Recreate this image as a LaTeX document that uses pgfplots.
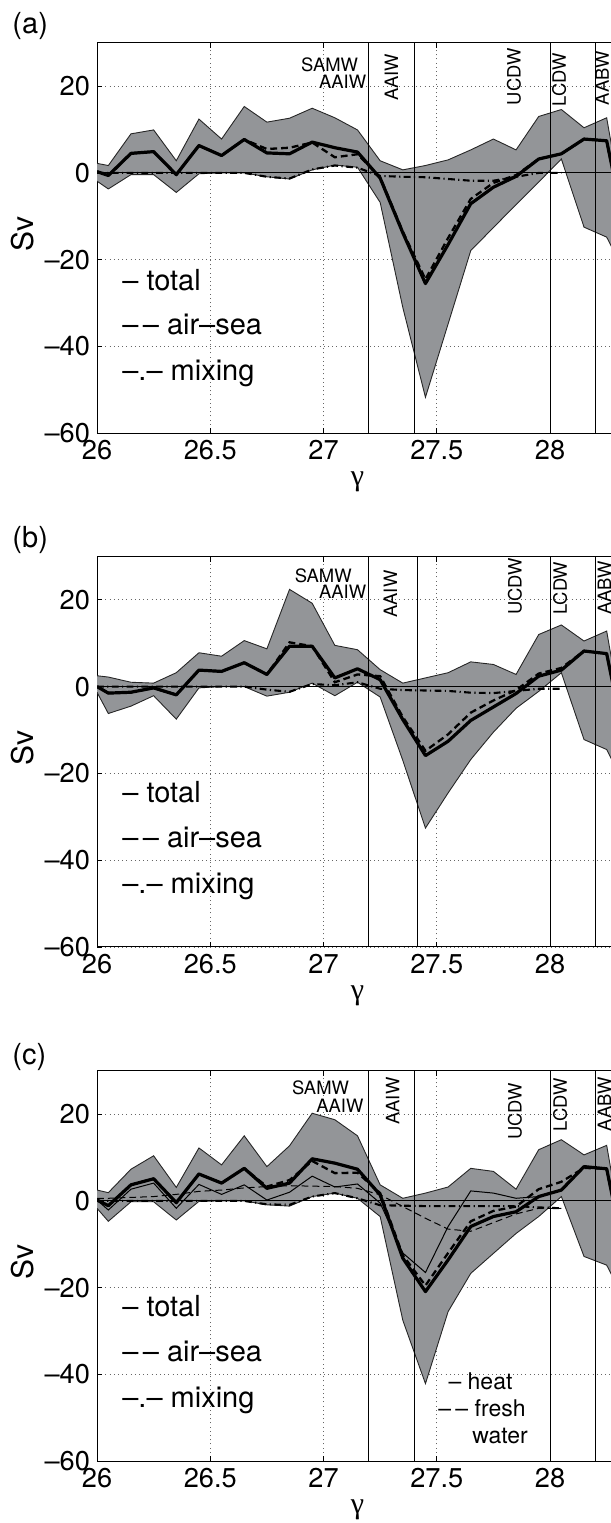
\documentclass[border=0pt]{standalone}
\usepackage{pgfplots}
\pgfplotsset{compat=1.18}
\usepackage{pgfplotstable}
\usepgfplotslibrary{fillbetween}
\usepackage{fontspec}
\setmainfont{TeX Gyre Heros}
\newfontfamily\greekfont{Liberation Serif}
\definecolor{shade}{RGB}{147,149,152}
\newcommand{\dd}{–\kern2.2pt–}

\pgfplotstableread{
x      up    lo     tot    air    mix
26.00  2.2  -1.9    0.3    0.3    0
26.05  1.7  -3.7   -0.6   -0.6    0
26.15  9.0  -0.4    4.5    4.5    0
26.25  9.9  -0.4    4.9    4.9    0
26.35  2.8  -4.5   -0.4   -0.4    0
26.45 12.4  -0.2    6.3    6.3    0
26.55  7.8   0.0    4.0    4.0    0
26.65 15.3   0.0    7.7    7.7    0
26.75 11.7  -0.9    4.6    5.5   -0.9
26.85 12.6  -1.4    4.4    5.8   -1.3
26.95 14.9   0.7    7.1    7.0    0.8
27.05 12.7   1.8    5.8    3.6    1.7
27.15  9.9   1.3    4.8    4.3    1.2
27.25  2.8  -6.8   -1.2   -1.0   -0.7
27.35  0.7 -31.0  -13.8  -13.5   -0.9
27.45  1.7 -51.7  -25.5  -24.5   -1.0
27.55  3.0 -34.8  -16.5  -15.0   -1.4
27.65  5.3 -17.9   -7.1   -6.0   -1.8
27.75  7.8 -12.6   -3.3   -2.3   -1.8
27.85  5.3  -7.3   -0.8   -0.5   -0.9
27.95 13.0  -2.1    3.2    3.2    0
28.05 14.6   3.2    4.4    4.4    0
28.15 10.4 -12.5    7.8    7.8    nan
28.25 12.7 -14.8    7.4    7.4    nan
28.35 -17  -25    -18    -18      nan
}\dataA

\pgfplotstableread{
x      up    lo     tot    air    mix
26.00  2.5  -1.3    0.0    0.0    0
26.05  2.2  -6.2   -1.5   -1.5    0
26.15  1.0  -4.5   -1.3   -1.3    0
26.25  0.8  -2.1   -0.3   -0.3    0
26.35  3.2  -7.5   -1.9   -1.9    0
26.45  7.8  -0.3    3.8    3.8    0
26.55  7.0   0.0    3.5    3.5    0
26.65 10.6   0.0    5.5    5.5    0
26.75  8.7  -2.2    2.8    2.8   -0.7
26.85 22.4  -1.3    9.3   10.2   -1.2
26.95 19.2   0.8    9.3    9.3    0.6
27.05  9.5  -2.1    2.0    1.0    0.3
27.15  8.5   1.0    4.1    2.8    1.0
27.25  3.9  -2.4    1.6    2.4   -0.5
27.35  0.8 -17.0   -7.6   -7.0   -0.8
27.45  2.0 -32.6  -15.9  -14.8   -0.9
27.55  3.2 -24.5  -12.6  -11.0   -1.0
27.65  5.7 -16.8   -7.8   -6.0   -1.4
27.75  5.1 -10.5   -4.7   -3.2   -1.5
27.85  2.8  -5.0   -1.6   -0.8   -1.0
27.95 12.0  -1.1    2.4    3.0   -0.5
28.05 14.2   3.2    3.8    4.3   -0.5
28.15 10.5 -12.2    8.2    8.2    nan
28.25 12.8 -14.5    7.6    7.6    nan
28.35 -17  -25    -18    -18      nan
}\dataB

\pgfplotstableread{
x      up    lo     tot    air    mix   heat   fw
26.00  2.5  -1.7    0.2    0.2    0     0.2    0.6
26.05  1.9  -4.7   -1.1   -1.1    0    -2.1    0.6
26.15  7.3  -0.2    3.7    3.7    0     2.7    0.8
26.25 10.4  -0.2    5.1    5.1    0     4.1    1.0
26.35  3.1  -4.4   -0.4   -0.4    0    -1.7    1.5
26.45 12.2  -0.1    6.2    6.2    0     3.8    2.2
26.55  8.3   0.0    4.1    4.1    0     1.5    2.5
26.65 15.0   0.0    7.5    7.5    0     3.7    3.0
26.75  7.9  -0.9    2.9    3.3   -0.8    0.2    3.3
26.85 12.7  -1.2    4.1    4.8   -0.9    2.0    3.5
26.95 20.2   1.0    9.7    9.2    1.0    5.7    3.4
27.05 18.7   1.8    8.7    6.4    1.8    3.2    3.3
27.15 15.0   0.6    7.3    6.5    0.6    3.9    2.9
27.25  3.7  -3.6    1.4    1.8   -1.0   -0.5    1.4
27.35  0.6 -27.5  -13.2  -12.5   -1.1  -12.0   -1.3
27.45  1.8 -42.1  -20.9  -19.5   -1.2  -16.5   -4.0
27.55  3.2 -25.5  -13.6  -12.0   -1.2   -5.9   -6.5
27.65  7.5 -16.7   -5.9   -4.7   -1.2    2.3   -7.0
27.75  6.8 -12.1   -3.6   -2.3   -1.2    1.8   -5.0
27.85  2.7  -7.5   -2.5   -1.3   -1.2    0.6   -3.0
27.95 11.8  -3.6    1.0    2.7   -1.5    1.0   -1.7
28.05 14.1   1.0    2.5    4.4   -1.7    2.5   -1.7
28.15 10.6 -12.8    7.9    7.6    nan   nan    nan
28.25 12.8 -14.8    7.4    7.4    nan   nan    nan
28.35 -17  -25    -18    -18      nan   nan    nan
}\dataC

\pgfplotsset{
  panel/.style={
    scale only axis, width=260.5pt, height=195.3pt,
    anchor=south west,
    xmin=26, xmax=28.3, ymin=-60, ymax=30,
    xtick={26,26.5,27,27.5,28}, xticklabels={26,26.5,27,27.5,28},
    ytick={-60,-40,-20,0,20}, yticklabels={–60,–40,–20,0,20},
    grid=major,
    major grid style={dash pattern=on 0.5pt off 1.6pt, black!60, line width=0.45pt},
    tick align=inside, major tick length=2.6pt,
    axis line style={line width=0.5pt},
    every tick/.style={black, line width=0.45pt},
    ticklabel style={font=\fontsize{13.6}{14}\selectfont},
    clip mode=individual,
  },
  edge/.style={black!85, line width=0.45pt},
  tot/.style={black, line width=1.6pt, line join=round},
  air/.style={black, line width=1.15pt, dash pattern=on 3.4pt off 2pt},
  mixs/.style={black, line width=1.05pt, dash pattern=on 3.4pt off 1.7pt on 0.6pt off 1.7pt},
  vline/.style={black, line width=0.5pt},
}
\tikzset{
  lab/.style={font=\fontsize{9.2}{10}\selectfont, inner sep=0pt},
  leg/.style={font=\fontsize{14.5}{15}\selectfont, inner sep=0pt},
  sleg/.style={font=\fontsize{11.5}{12}\selectfont, inner sep=0pt, anchor=base west},
  pl/.style={font=\fontsize{14.5}{15}\selectfont, inner sep=0pt, anchor=west},
}

\begin{document}
\begin{tikzpicture}
% ---------------- (a)
\begin{axis}[panel, at={(48.5pt,544.85pt)}]
\addplot[draw=none, name path=U] table[x=x,y=up]{\dataA};
\addplot[draw=none, name path=L] table[x=x,y=lo]{\dataA};
\addplot[fill=shade, draw=none] fill between[of=U and L];
\addplot[edge] table[x=x,y=up]{\dataA};
\addplot[edge] table[x=x,y=lo]{\dataA};
\addplot[vline] coordinates {(26,0) (28.3,0)};
\addplot[vline] coordinates {(27.2,-60) (27.2,30)};
\addplot[vline] coordinates {(27.4,-60) (27.4,30)};
\addplot[vline] coordinates {(28.0,-60) (28.0,30)};
\addplot[vline] coordinates {(28.2,-60) (28.2,30)};
\addplot[mixs] table[x=x,y=mix]{\dataA};
\addplot[air] table[x=x,y=air]{\dataA};
\addplot[tot] table[x=x,y=tot]{\dataA};
\node[lab, anchor=east] at (axis cs:27.154,25.0) {SAMW};
\node[lab, anchor=east] at (axis cs:27.19,20.9) {AAIW};
\node[lab, rotate=90, anchor=west] at (axis cs:27.30,16.5) {AAIW};
\node[lab, rotate=90, anchor=west] at (axis cs:27.84,15.5) {UCDW};
\node[lab, rotate=90, anchor=west] at (axis cs:28.04,15.3) {LCDW};
\node[lab, rotate=90, anchor=west] at (axis cs:28.23,15.5) {AABW};
\node[leg, anchor=base west] at (axis cs:26.11,-27) {– total};
\node[leg, anchor=base west] at (axis cs:26.11,-37.3) {\dd{} air–sea};
\node[leg, anchor=base west] at (axis cs:26.11,-47.9) {–.– mixing};
\node[pl] at (axis description cs:-0.163,1.043) {(a)};
\node[leg, rotate=90, font=\fontsize{15}{16}\selectfont] at (axis description cs:-0.142,0.51) {Sv};
\node[leg, font=\fontsize{15}{16}\selectfont\greekfont] at (axis description cs:0.5,-0.125) {γ};
\end{axis}
% ---------------- (b)
\begin{axis}[panel, at={(48.5pt,288pt)}]
\addplot[draw=none, name path=U] table[x=x,y=up]{\dataB};
\addplot[draw=none, name path=L] table[x=x,y=lo]{\dataB};
\addplot[fill=shade, draw=none] fill between[of=U and L];
\addplot[edge] table[x=x,y=up]{\dataB};
\addplot[edge] table[x=x,y=lo]{\dataB};
\addplot[vline] coordinates {(26,0) (28.3,0)};
\addplot[vline] coordinates {(27.2,-60) (27.2,30)};
\addplot[vline] coordinates {(27.415,-60) (27.415,30)};
\addplot[vline] coordinates {(28.0,-60) (28.0,30)};
\addplot[vline] coordinates {(28.2,-60) (28.2,30)};
\addplot[mixs] table[x=x,y=mix]{\dataB};
\addplot[air] table[x=x,y=air]{\dataB};
\addplot[tot] table[x=x,y=tot]{\dataB};
\node[lab, anchor=east] at (axis cs:27.126,25.6) {SAMW};
\node[lab, anchor=east] at (axis cs:27.19,21.8) {AAIW};
\node[lab, rotate=90, anchor=west] at (axis cs:27.295,15.8) {AAIW};
\node[lab, rotate=90, anchor=west] at (axis cs:27.845,16.5) {UCDW};
\node[lab, rotate=90, anchor=west] at (axis cs:28.045,16.5) {LCDW};
\node[lab, rotate=90, anchor=west] at (axis cs:28.24,16.5) {AABW};
\node[leg, anchor=base west] at (axis cs:26.11,-26.7) {– total};
\node[leg, anchor=base west] at (axis cs:26.11,-37.1) {\dd{} air–sea};
\node[leg, anchor=base west] at (axis cs:26.11,-47.7) {–.– mixing};
\node[pl] at (axis description cs:-0.163,1.042) {(b)};
\node[leg, rotate=90, font=\fontsize{15}{16}\selectfont] at (axis description cs:-0.142,0.51) {Sv};
\node[leg, font=\fontsize{15}{16}\selectfont\greekfont] at (axis description cs:0.5,-0.125) {γ};
\end{axis}
% ---------------- (c)
\begin{axis}[panel, at={(48.5pt,30.85pt)}]
\addplot[draw=none, name path=U] table[x=x,y=up]{\dataC};
\addplot[draw=none, name path=L] table[x=x,y=lo]{\dataC};
\addplot[fill=shade, draw=none] fill between[of=U and L];
\addplot[edge] table[x=x,y=up]{\dataC};
\addplot[edge] table[x=x,y=lo]{\dataC};
\addplot[vline] coordinates {(26,0) (28.3,0)};
\addplot[vline] coordinates {(27.2,-60) (27.2,30)};
\addplot[vline] coordinates {(27.4,-60) (27.4,30)};
\addplot[vline] coordinates {(28.0,-60) (28.0,30)};
\addplot[vline] coordinates {(28.2,-60) (28.2,30)};
\addplot[black, line width=0.5pt] table[x=x,y=heat]{\dataC};
\addplot[black, line width=0.5pt, dash pattern=on 3.4pt off 2pt] table[x=x,y=fw]{\dataC};
\addplot[mixs] table[x=x,y=mix]{\dataC};
\addplot[air] table[x=x,y=air]{\dataC};
\addplot[tot] table[x=x,y=tot]{\dataC};
\node[lab, anchor=east] at (axis cs:27.114,26.0) {SAMW};
\node[lab, anchor=east] at (axis cs:27.178,21.9) {AAIW};
\node[lab, rotate=90, anchor=west] at (axis cs:27.305,17.5) {AAIW};
\node[lab, rotate=90, anchor=west] at (axis cs:27.845,14.0) {UCDW};
\node[lab, rotate=90, anchor=west] at (axis cs:28.045,16.0) {LCDW};
\node[lab, rotate=90, anchor=west] at (axis cs:28.24,16.0) {AABW};
\node[leg, anchor=base west] at (axis cs:26.11,-26.7) {– total};
\node[leg, anchor=base west] at (axis cs:26.11,-37.1) {\dd{} air–sea};
\node[leg, anchor=base west] at (axis cs:26.11,-47.7) {–.– mixing};
\node[sleg] at (axis cs:27.55,-43.5) {– heat};
\node[sleg] at (axis cs:27.505,-49.6) {\dd{} fresh};
\node[sleg] at (axis cs:27.655,-56.0) {water};
\node[pl] at (axis description cs:-0.163,1.036) {(c)};
\node[leg, rotate=90, font=\fontsize{15}{16}\selectfont] at (axis description cs:-0.142,0.51) {Sv};
\node[leg, font=\fontsize{15}{16}\selectfont\greekfont] at (axis description cs:0.5,-0.125) {γ};
\end{axis}
\pgfresetboundingbox
\path[use as bounding box] (0,0) rectangle (305.5pt,761.5pt);
\end{tikzpicture}
\end{document}
